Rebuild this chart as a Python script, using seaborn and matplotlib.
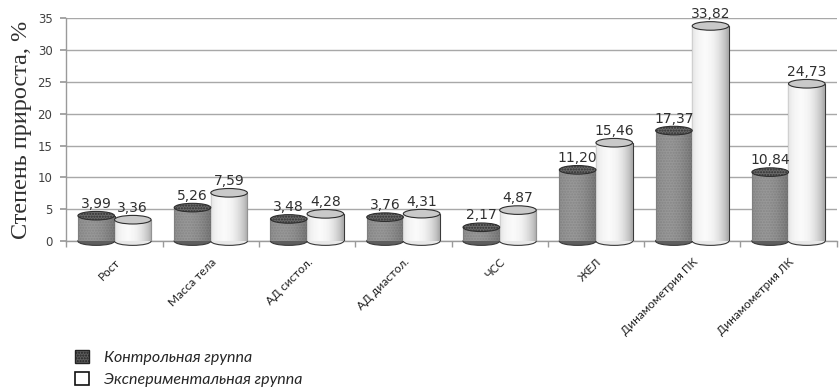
import numpy as np
import pandas as pd
import matplotlib
matplotlib.use("Agg")
import matplotlib.pyplot as plt
import matplotlib.transforms as mtransforms
import seaborn as sns
from matplotlib.patches import Ellipse, Patch

categories = ["Рост", "Масса тела", "АД систол.", "АД диастол.", "ЧСС", "ЖЕЛ",
              "Динамометрия ПК", "Динамометрия ЛК"]
control = [3.99, 5.26, 3.48, 3.76, 2.17, 11.20, 17.37, 10.84]
experimental = [3.36, 7.59, 4.28, 4.31, 4.87, 15.46, 33.82, 24.73]
series_names = ["Контрольная группа", "Экспериментальная группа"]
y_label = "Степень прироста, %"
y_ticks = [0, 5, 10, 15, 20, 25, 30, 35]

df = pd.DataFrame({
    "cat": categories * 2,
    "val": control + experimental,
    "grp": [series_names[0]] * len(categories) + [series_names[1]] * len(categories),
})

sns.set_theme(style="white")
plt.rcParams["font.family"] = ["DejaVu Sans"]

fig = plt.figure(figsize=(8.4, 3.92), dpi=100)
ax = fig.add_axes([0.079, 0.385, 0.917, 0.568])

dark_face = "#5e5e5e"
light_face = "#ffffff"
sns.barplot(data=df, x="cat", y="val", hue="grp", hue_order=series_names,
            palette=[dark_face, light_face], width=0.76, gap=0.0,
            edgecolor="#3a3a3a", linewidth=0.8, legend=False, ax=ax, zorder=3)

ax.set_ylim(0, 35)
ax.set_xlim(-0.5, len(categories) - 0.5)
ax.set_yticks(y_ticks)
ax.set_yticklabels([str(t) for t in y_ticks], fontsize=8.5, color="#404040")
shift = mtransforms.ScaledTranslation(0, -4 / 100, fig.dpi_scale_trans)
for lbl in ax.get_yticklabels():
    lbl.set_transform(lbl.get_transform() + shift)
ax.yaxis.grid(True, color="#a8a8a8", linewidth=1.0, zorder=0)
ax.xaxis.grid(False)
for s in ["top", "right"]:
    ax.spines[s].set_visible(False)
for s in ["left", "bottom"]:
    ax.spines[s].set_color("#9a9a9a")
    ax.spines[s].set_linewidth(1.0)
ax.tick_params(axis="y", length=4, color="#9a9a9a", direction="out", pad=6, left=True)
ax.set_xticks(range(len(categories)))
ax.set_xticklabels(categories, rotation=45, ha="right", rotation_mode="anchor",
                   fontsize=8.5, family="Lato", color="#202020")
ax.tick_params(axis="x", length=0, pad=11)
ax.set_xticks(np.arange(-0.5, len(categories), 1.0), minor=True)
ax.tick_params(axis="x", which="minor", length=4, color="#9a9a9a", direction="out", bottom=True)
ax.set_xlabel("")
ax.set_ylabel(y_label, family="Liberation Serif", fontsize=17.5, color="#303030", labelpad=4)

# cylinder shading and caps derived from the drawn bars
grad = np.linspace(0, 1, 64)
shade = 1 - 0.55 * (np.abs(grad - 0.35) / 0.65) ** 1.6
patches = list(ax.patches)
n = len(categories)
cap_h = 1.35
for i, p in enumerate(patches):
    x0, w, h = p.get_x(), p.get_width(), p.get_height()
    dark = i < n
    img = np.tile(shade, (2, 1))
    if dark:
        p.set_hatch("......")
        im = ax.imshow(img, extent=[x0, x0 + w, 0, h], aspect="auto", cmap="Greys_r",
                       vmin=-0.9, vmax=1.9, zorder=3.5, alpha=0.55)
    else:
        im = ax.imshow(img, extent=[x0, x0 + w, 0, h], aspect="auto", cmap="Greys_r",
                       vmin=-0.2, vmax=1.05, zorder=3.5, alpha=0.9)
    im.set_clip_path(p)
    cap_color = "#6a6a6a" if dark else "#c9c9c9"
    top = Ellipse((x0 + w / 2, h), w, cap_h, facecolor=cap_color, edgecolor="#2f2f2f",
                  linewidth=0.8, zorder=4, hatch="......" if dark else None)
    ax.add_patch(top)
    bottom = Ellipse((x0 + w / 2, 0), w, cap_h, facecolor=dark_face if dark else "#e8e8e8",
                     edgecolor="#3a3a3a", linewidth=0.8, zorder=2.9, clip_on=False)
    ax.add_patch(bottom)

for i, p in enumerate(patches):
    vals = control if i < n else experimental
    v = vals[i % n]
    ax.annotate(f"{v:.2f}".replace(".", ","), (p.get_x() + p.get_width() / 2, p.get_height()),
                xytext=(0, 3.5), textcoords="offset points", ha="center", va="bottom",
                fontsize=10, color="#303030", zorder=5)

ax.set_xlim(-0.5, len(categories) - 0.5)
ax.set_ylim(0, 35)

handles = [Patch(facecolor=dark_face, edgecolor="#222222", hatch="......"),
           Patch(facecolor="white", edgecolor="#111111", linewidth=1.2)]
fig.legend(handles, series_names, loc="upper left", bbox_to_anchor=(0.072, 0.145),
           frameon=False, handlelength=0.9, handleheight=0.9, handletextpad=0.9,
           labelspacing=0.45, prop={"family": "Lato", "style": "italic", "size": 11.5})

fig.savefig("out.png", dpi=100, facecolor="white")
